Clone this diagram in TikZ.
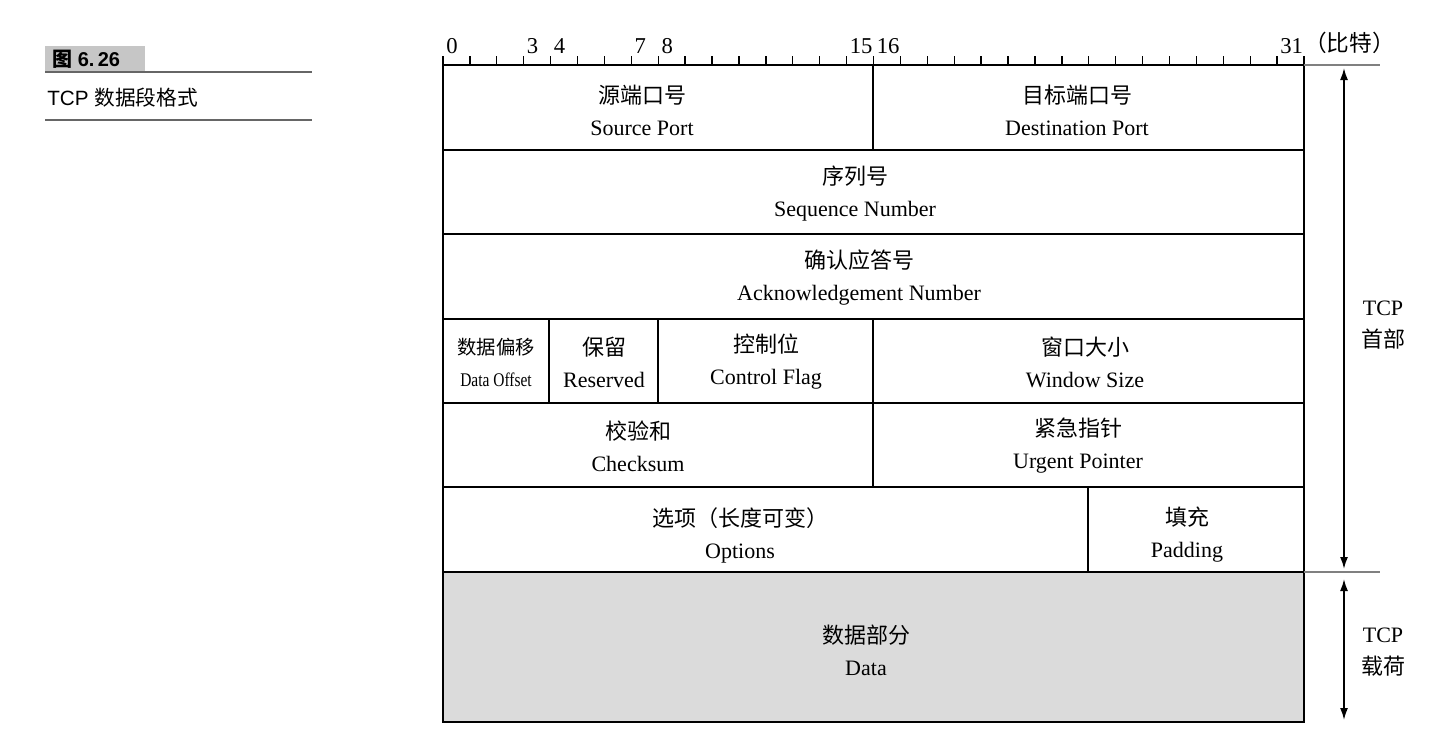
\documentclass[tikz,border=0pt]{standalone}
\usepackage{fontspec}
\usetikzlibrary{arrows.meta}
\setmainfont{Liberation Serif}
\newfontfamily\cjk{Noto Sans CJK SC}
\newfontfamily\hei{Liberation Sans}
\begin{document}
\begin{tikzpicture}[x=0.75pt,y=-0.75pt,
  fld/.style={align=center,font=\fontsize{16.5}{24}\selectfont,inner sep=0pt},
  box/.style={draw,line width=1.6pt},
  tick/.style={line width=1pt},
  gline/.style={draw=gray,line width=1.2pt},
  arr/.style={line width=1.3pt,>={Latex[length=9pt,width=6pt]}},
  lbl/.style={font=\fontsize{17}{18}\selectfont,inner sep=0pt}]
\useasboundingbox (0,0) rectangle (1440,753);
% caption
\fill[gray!45] (45,46) rectangle (145,71);
\node[font=\hei\bfseries\fontsize{15}{16}\selectfont,anchor=west,inner sep=0pt] (fig) at (52,59) {{\cjk 图} 6.\,26};
\draw[gray!80!black,line width=1.2pt] (45,72) -- (312,72);
\node[font=\fontsize{15.5}{16}\selectfont,anchor=west,inner sep=0pt] (cap) at (47,98) {\hei TCP {\cjk 数据段格式}};
\draw[gray!80!black,line width=1.2pt] (45,120) -- (312,120);
% data area
\fill[gray!28] (443,572) rectangle (1304,722);
% rows
\draw[box] (443,65) rectangle (1304,722);
\foreach \y in {150,234,319,403,487,572} \draw[box] (443,\y) -- (1304,\y);
\draw[box] (873,65) -- (873,150);
\draw[box] (549,319) -- (549,403);
\draw[box] (658,319) -- (658,403);
\draw[box] (873,319) -- (873,487);
\draw[box] (1088,487) -- (1088,572);
% ruler
\foreach \i in {0,...,32} \draw[tick] ({443+\i*26.906},65) -- ({443+\i*26.906},56);
\foreach \b/\t in {0/0,3/3,4/4,7/7,8/8,15/15,16/16,31/31}
  \node[lbl,anchor=south west] (r\b) at ({446+\b*26.906},54) {\t};
\node[lbl,anchor=south west] (unit) at (1304,54) {\cjk （比特）};
% fields
\node[fld] (sp) at (642,110) {{\cjk 源端口号}\\Source Port};
\node[fld] (dp) at (1077,110) {{\cjk 目标端口号}\\Destination Port};
\node[fld] (sn) at (855,194) {{\cjk 序列号}\\Sequence Number};
\node[fld] (an) at (859,278) {{\cjk 确认应答号}\\Acknowledgement Number};
\node[fld,font=\fontsize{14.5}{24}\selectfont] (do) at (496,362) {{\cjk 数据偏移}\\\scalebox{0.8}[1]{Data Offset}};
\node[fld] (rs) at (604,362) {{\cjk 保留}\\Reserved};
\node[fld] (cf) at (766,362) {{\cjk 控制位}\\Control Flag};
\node[fld] (ws) at (1085,362) {{\cjk 窗口大小}\\Window Size};
\node[fld] (cs) at (638,446) {{\cjk 校验和}\\Checksum};
\node[fld] (up) at (1078,446) {{\cjk 紧急指针}\\Urgent Pointer};
\node[fld] (op) at (740,535) {{\cjk 选项（长度可变）}\\Options};
\node[fld] (pd) at (1187,535) {{\cjk 填充}\\Padding};
\node[fld] (dt) at (866,650) {{\cjk 数据部分}\\Data};
% right side
\draw[gline] (1304,65) -- (1380,65);
\draw[gline] (1304,572) -- (1380,572);
\coordinate (h1) at (1344,68);
\coordinate (h2) at (1344,569);
\coordinate (p1) at (1344,579);
\coordinate (p2) at (1344,720);
\draw[arr,<->] (h1) -- (h2);
\draw[arr,<->] (p1) -- (p2);
\node[fld] (hdr) at (1383,325) {TCP\\{\cjk 首部}};
\node[fld] (pay) at (1383,652) {TCP\\{\cjk 载荷}};
\end{tikzpicture}
\end{document}
